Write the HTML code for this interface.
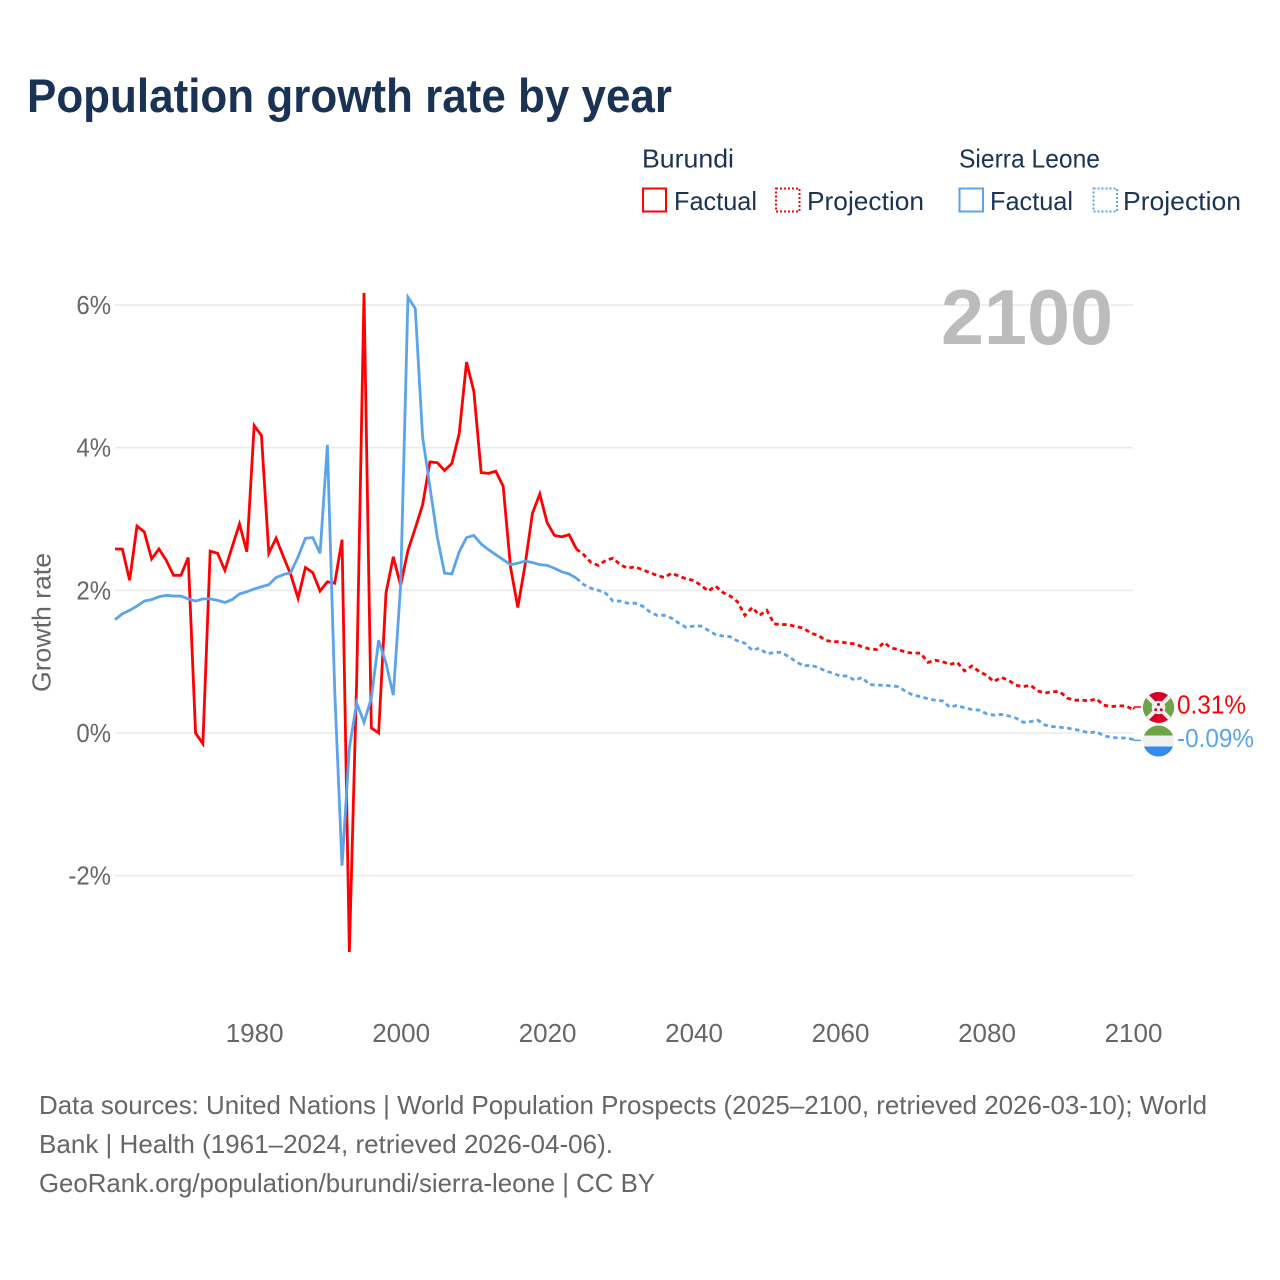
<!DOCTYPE html>
<html lang="en">
<head>
<meta charset="utf-8">
<title>Population growth rate by year</title>
<style>
html,body{margin:0;padding:0;background:#fff;}
#chart{display:block;width:1280px;height:1280px;}
text{font-family:"Liberation Sans",sans-serif;}
</style>
</head>
<body>
<svg id="chart" xmlns="http://www.w3.org/2000/svg" width="1280" height="1280" viewBox="0 0 1280 1280">
  <rect x="0" y="0" width="1280" height="1280" fill="#ffffff"/>
  <text x="27" y="112" font-size="47" font-weight="700" fill="#1a3355" textLength="645" lengthAdjust="spacingAndGlyphs">Population growth rate by year</text>

  <g font-size="26" fill="#1a3355">
    <text x="642" y="167.5" textLength="92" lengthAdjust="spacingAndGlyphs">Burundi</text>
    <rect x="643" y="188.5" width="23" height="23" fill="none" stroke="#ff0000" stroke-width="2"/>
    <text x="674" y="210" textLength="83" lengthAdjust="spacingAndGlyphs">Factual</text>
    <rect x="776" y="188.5" width="23.5" height="23" fill="none" stroke="#ff0000" stroke-width="2" stroke-dasharray="2 2"/>
    <text x="807" y="210" textLength="117" lengthAdjust="spacingAndGlyphs">Projection</text>
    <text x="959" y="167.5" textLength="141" lengthAdjust="spacingAndGlyphs">Sierra Leone</text>
    <rect x="959.5" y="188.5" width="23.5" height="23" fill="none" stroke="#5ba4ec" stroke-width="2"/>
    <text x="990" y="210" textLength="83" lengthAdjust="spacingAndGlyphs">Factual</text>
    <rect x="1093.5" y="188.5" width="23.5" height="23" fill="none" stroke="#5ba4ec" stroke-width="2" stroke-dasharray="2 2"/>
    <text x="1123" y="210" textLength="118" lengthAdjust="spacingAndGlyphs">Projection</text>
  </g>

  <g id="grid"></g>
  <g id="yticks"></g>
  <g id="xticks"></g>

  <text transform="translate(50.5,692) rotate(-90)" font-size="26" fill="#666666" textLength="139" lengthAdjust="spacingAndGlyphs">Growth rate</text>
  <text x="941" y="344" font-size="78" font-weight="700" fill="#bcbcbc" textLength="172" lengthAdjust="spacingAndGlyphs">2100</text>

  <g id="series"></g>

  <g id="flag-burundi">
    <clipPath id="clip-burundi"><circle cx="0" cy="0" r="15.5"/></clipPath>
    <g clip-path="url(#clip-burundi)">
      <rect x="-16" y="-16" width="32" height="32" fill="#d80027"/>
      <path d="M-16 -16L0 0L-16 16Z" fill="#6da544"/>
      <path d="M16 -16L0 0L16 16Z" fill="#6da544"/>
      <path d="M-16 -16L16 16M16 -16L-16 16" stroke="#f0f0f0" stroke-width="4" fill="none"/>
      <circle cx="0" cy="0" r="6.8" fill="#f0f0f0"/>
      <circle cx="0" cy="-3" r="1.5" fill="#d80027"/>
      <circle cx="-2.8" cy="2.2" r="1.5" fill="#d80027"/>
      <circle cx="2.8" cy="2.2" r="1.5" fill="#d80027"/>
    </g>
  </g>
  <g id="flag-sierra-leone">
    <clipPath id="clip-sl"><circle cx="0" cy="0" r="15.5"/></clipPath>
    <g clip-path="url(#clip-sl)">
      <rect x="-16" y="-16" width="32" height="32" fill="#f0f0f0"/>
      <rect x="-16" y="-16" width="32" height="10.5" fill="#6da544"/>
      <rect x="-16" y="5.5" width="32" height="10.5" fill="#338af3"/>
    </g>
  </g>
  <text id="label-burundi" x="1177" font-size="26" fill="#ff0000" textLength="69" lengthAdjust="spacingAndGlyphs"></text>
  <text id="label-sl" x="1177" font-size="26" fill="#5ba4ec" textLength="77" lengthAdjust="spacingAndGlyphs"></text>

  <g font-size="26" fill="#666666">
    <text x="39" y="1114" textLength="1168" lengthAdjust="spacingAndGlyphs">Data sources: United Nations | World Population Prospects (2025–2100, retrieved 2026-03-10); World</text>
    <text x="39" y="1153" textLength="574" lengthAdjust="spacingAndGlyphs">Bank | Health (1961–2024, retrieved 2026-04-06).</text>
    <text x="39" y="1192" textLength="616" lengthAdjust="spacingAndGlyphs">GeoRank.org/population/burundi/sierra-leone | CC BY</text>
  </g>
</svg>
<script>
const factualStartYear = 1961;
const projectionStartYear = 2024;
const xTickYears = [1980, 2000, 2020, 2040, 2060, 2080, 2100];
const yTickValues = [6, 4, 2, 0, -2];
const yTickLabels = ["6%", "4%", "2%", "0%", "-2%"];

const burundiFactual = [2.58,2.58,2.14,2.90,2.82,2.44,2.58,2.42,2.21,2.21,2.46,0.00,-0.15,2.55,2.52,2.28,2.61,2.93,2.54,4.31,4.17,2.52,2.73,2.47,2.22,1.89,2.32,2.25,1.99,2.12,2.10,2.71,-3.07,0.74,6.17,0.07,0.00,1.96,2.47,2.07,2.56,2.87,3.20,3.80,3.79,3.68,3.78,4.20,5.20,4.79,3.65,3.64,3.67,3.46,2.33,1.76,2.36,3.08,3.35,2.95,2.77,2.75,2.78,2.58];
const burundiProjection = [2.58,2.50,2.39,2.35,2.42,2.45,2.36,2.31,2.33,2.29,2.25,2.21,2.18,2.24,2.20,2.16,2.14,2.07,1.99,2.06,1.97,1.92,1.84,1.65,1.76,1.65,1.72,1.53,1.52,1.52,1.49,1.47,1.40,1.37,1.30,1.28,1.28,1.26,1.25,1.21,1.18,1.17,1.27,1.19,1.17,1.13,1.12,1.12,0.99,1.02,1.00,0.96,0.99,0.87,0.94,0.86,0.81,0.72,0.78,0.74,0.67,0.65,0.67,0.59,0.56,0.58,0.58,0.49,0.46,0.46,0.45,0.48,0.39,0.37,0.38,0.38,0.33];
const sierraLeoneFactual = [1.59,1.67,1.72,1.78,1.85,1.87,1.91,1.93,1.92,1.92,1.88,1.85,1.88,1.88,1.86,1.83,1.87,1.95,1.98,2.02,2.05,2.08,2.18,2.22,2.25,2.47,2.73,2.74,2.52,4.04,0.60,-1.86,-0.21,0.42,0.15,0.49,1.30,0.98,0.53,2.07,6.11,5.95,4.15,3.45,2.75,2.24,2.23,2.54,2.74,2.77,2.65,2.57,2.50,2.43,2.36,2.38,2.41,2.39,2.36,2.35,2.31,2.26,2.23,2.17];
const sierraLeoneProjection = [2.17,2.08,2.03,2.00,1.96,1.85,1.85,1.82,1.82,1.78,1.70,1.65,1.65,1.61,1.54,1.48,1.50,1.50,1.44,1.38,1.36,1.35,1.29,1.26,1.16,1.19,1.11,1.13,1.13,1.07,1.00,0.94,0.95,0.92,0.87,0.84,0.80,0.80,0.74,0.78,0.68,0.67,0.67,0.66,0.65,0.58,0.53,0.51,0.48,0.46,0.45,0.36,0.39,0.35,0.33,0.32,0.27,0.25,0.26,0.24,0.21,0.15,0.16,0.18,0.11,0.09,0.08,0.07,0.05,0.03,0.00,0.02,-0.04,-0.06,-0.07,-0.07,-0.09];
const endValues = [0.31, -0.09];
const endValueLabels = ["0.31%", "-0.09%"];

const NS = "http://www.w3.org/2000/svg";
const RED = "#ff0000";
const BLUE = "#5ba4ec";
function xScale(year) { return 115 + (year - 1961) * (1133 - 115) / (2100 - 1961); }
function yScale(value) { return 733 - value * 71.33; }
function make(tag, attrs, parent) {
  const el = document.createElementNS(NS, tag);
  for (const k in attrs) el.setAttribute(k, attrs[k]);
  parent.appendChild(el);
  return el;
}
function pointsFor(startYear, values) {
  return values.map(function (v, i) { return xScale(startYear + i).toFixed(2) + "," + yScale(v).toFixed(2); }).join(" ");
}

const gridGroup = document.getElementById("grid");
const yTickGroup = document.getElementById("yticks");
yTickValues.forEach(function (v, i) {
  const line = make("line", {x1: 115, x2: xScale(2100), y1: yScale(v), y2: yScale(v), stroke: "#eaeaea", "stroke-width": 1.5}, gridGroup);
  
  
  const label = make("text", {x: 111, y: yScale(v) + 9, "text-anchor": "end", "font-size": 26, fill: "#666666"}, yTickGroup);
  
  
  label.textContent = yTickLabels[i];
  label.setAttribute("textLength", (label.getComputedTextLength() * 0.92).toFixed(1));
  label.setAttribute("lengthAdjust", "spacingAndGlyphs");
});

const xTickGroup = document.getElementById("xticks");
xTickYears.forEach(function (year) {
  const label = make("text", {x: xScale(year) + 0.5, y: 1042, "text-anchor": "middle", "font-size": 26, fill: "#666666"}, xTickGroup);
  
  
  label.textContent = String(year);
});

const seriesGroup = document.getElementById("series");
const redFactual = make("polyline", {points: pointsFor(factualStartYear, burundiFactual), fill: "none", stroke: RED, "stroke-width": 2.8, "stroke-linejoin": "miter"}, seriesGroup);


const redProjection = make("polyline", {points: pointsFor(projectionStartYear, burundiProjection), fill: "none", stroke: RED, "stroke-width": 2.8, "stroke-dasharray": "4.5 3.5"}, seriesGroup);


const blueFactual = make("polyline", {points: pointsFor(factualStartYear, sierraLeoneFactual), fill: "none", stroke: BLUE, "stroke-width": 2.8, "stroke-linejoin": "miter"}, seriesGroup);


const blueProjection = make("polyline", {points: pointsFor(projectionStartYear, sierraLeoneProjection), fill: "none", stroke: BLUE, "stroke-width": 2.8, "stroke-dasharray": "4.5 3.5"}, seriesGroup);



const redLast = burundiProjection[burundiProjection.length - 1];
const blueLast = sierraLeoneProjection[sierraLeoneProjection.length - 1];
const redTail = make("polyline", {points: xScale(2100) + "," + yScale(redLast) + " " + (xScale(2100) + 1.5) + "," + (yScale(redLast) - 2.5) + " " + (xScale(2100) + 8) + "," + (yScale(redLast) - 2.5), fill: "none", stroke: RED, "stroke-width": 1.5}, seriesGroup);


const blueTail = make("polyline", {points: xScale(2100) + "," + (yScale(blueLast) - 1) + " " + (xScale(2100) + 1) + "," + (yScale(blueLast) + 1) + " " + (xScale(2100) + 8) + "," + (yScale(blueLast) + 1), fill: "none", stroke: BLUE, "stroke-width": 1.5}, seriesGroup);



document.getElementById("flag-burundi").setAttribute("transform", "translate(1158.5," + (yScale(endValues[0]) - 3.4) + ")");
document.getElementById("flag-sierra-leone").setAttribute("transform", "translate(1158.5," + (yScale(endValues[1]) + 1.6) + ")");
const labelBurundi = document.getElementById("label-burundi");
labelBurundi.setAttribute("y", yScale(endValues[0]) + 2.5);
labelBurundi.textContent = endValueLabels[0];
const labelSl = document.getElementById("label-sl");
labelSl.setAttribute("y", yScale(endValues[1]) + 7.5);
labelSl.textContent = endValueLabels[1];
</script>
</body>
</html>
